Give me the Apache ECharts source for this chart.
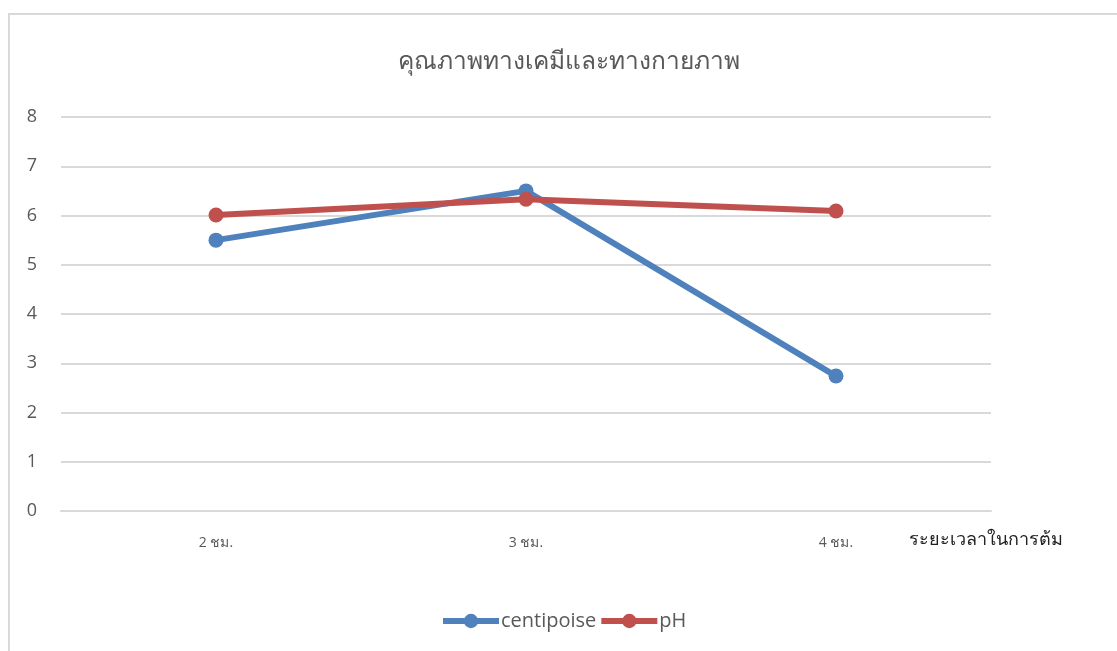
<!DOCTYPE html>
<html>
<head>
<meta charset="utf-8">
<script src="https://cdn.jsdelivr.net/npm/echarts@6/dist/echarts.min.js"></script>
<style>
  html, body { margin: 0; padding: 0; background: #fff; overflow: hidden; }
  #frame {
    position: absolute; left: 8px; top: 13px; width: 1200px; height: 700px;
    border: 2px solid #d9d9d9; box-sizing: border-box;
  }
  #chart { position: absolute; left: 0; top: 0; width: 1117px; height: 651px; }
</style>
</head>
<body>
<div id="frame"></div>
<div id="chart"></div>
<script>
const categories = ["2 ชม.", "3 ชม.", "4 ชม."];
const centipoise = [5.5, 6.5, 2.74];
const ph = [6.01, 6.33, 6.09];
const yTicks = [0, 1, 2, 3, 4, 5, 6, 7, 8];

const font = "'Open Sans', 'Noto Sans', 'DejaVu Sans', sans-serif";
const chart = echarts.init(document.getElementById("chart"));

chart.setOption({
  animation: false,
  color: ["#4f81bd", "#c0504d"],
  title: {
    text: "คุณภาพทางเคมีและทางกายภาพ",
    left: 393,
    top: 45,
    textStyle: { color: "#595959", fontSize: 24.5, fontWeight: "normal", fontFamily: font },
  },
  grid: { left: 61, right: 126, top: 117, bottom: 140 },
  legend: {
    bottom: 15,
    left: 435,
    itemWidth: 56,
    itemHeight: 18,
    itemGap: 2,
    lineStyle: { width: 6 },
    textStyle: { color: "#595959", fontSize: 20, fontFamily: font, padding: [0, 0, 0, -3] },
  },
  xAxis: {
    type: "category",
    data: categories,
    boundaryGap: true,
    name: "ระยะเวลาในการต้ม",
    nameLocation: "end",
    nameGap: 0,
    nameTextStyle: {
      color: "#222", fontSize: 18, fontFamily: font,
      align: "left", verticalAlign: "top", padding: [20, 0, 0, -82],
    },
    axisLine: { show: true, lineStyle: { color: "#d9d9d9", width: 2 } },
    axisTick: { show: false },
    axisLabel: { color: "#595959", fontSize: 14, margin: 25, fontFamily: font },
  },
  yAxis: {
    type: "value",
    min: yTicks[0],
    max: yTicks[yTicks.length - 1],
    interval: 1,
    axisLine: { show: false },
    axisTick: { show: false },
    axisLabel: { color: "#595959", fontSize: 18, margin: 24, fontFamily: font },
    splitLine: { lineStyle: { color: "#d9d9d9", width: 2 } },
  },
  series: [
    {
      name: "centipoise",
      type: "line",
      data: centipoise,
      symbol: "circle",
      symbolSize: 15,
      lineStyle: { width: 6 },
    },
    {
      name: "pH",
      type: "line",
      data: ph,
      symbol: "circle",
      symbolSize: 15,
      lineStyle: { width: 6 },
    },
  ],
});
</script>
</body>
</html>
